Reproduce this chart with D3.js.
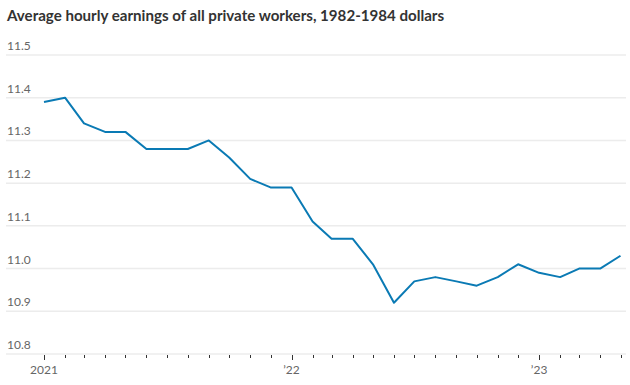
<!DOCTYPE html>
<meta charset="utf-8">
<html>
<head>
<title>Average hourly earnings</title>
<script src="https://d3js.org/d3.v7.min.js"></script>
<style>
body { margin: 0; background: #fff; }
.grid line { stroke: #ececec; stroke-width: 1.5px; }
.tick-label { font-family: Lato, "Noto Sans", sans-serif; font-size: 12px; fill: #666; }
</style>
</head>
<body>
<div id="chart"></div>
<script>
// monthly values, Jan 2021 - May 2023
var months = ["2021-01","2021-02","2021-03","2021-04","2021-05","2021-06","2021-07","2021-08","2021-09","2021-10","2021-11","2021-12",
  "2022-01","2022-02","2022-03","2022-04","2022-05","2022-06","2022-07","2022-08","2022-09","2022-10","2022-11","2022-12",
  "2023-01","2023-02","2023-03","2023-04","2023-05"];
var earnings = [11.39, 11.40, 11.34, 11.32, 11.32, 11.28, 11.28, 11.28, 11.30, 11.26, 11.21, 11.19,
  11.19, 11.11, 11.07, 11.07, 11.01, 10.92, 10.97, 10.98, 10.97, 10.96, 10.98, 11.01,
  10.99, 10.98, 11.00, 11.00, 11.03];
var yTicks = [10.8, 10.9, 11.0, 11.1, 11.2, 11.3, 11.4, 11.5];
var xTickLabels = ["2021", "\u201922", "\u201923"];
var xTickDates = ["2021-01", "2022-01", "2023-01"];

var parse = d3.timeParse("%Y-%m");
var data = months.map(function (m, i) { return { date: parse(m), value: earnings[i] }; });

var width = 630, height = 385;
var svg = d3.select("#chart").append("svg").attr("width", width).attr("height", height);

var x = d3.scaleTime().domain([parse("2021-01"), parse("2023-05")]).range([44, 620.5]);
var y = d3.scaleLinear().domain([10.8, 11.5]).range([354, 55]);

// title
svg.append("text")
  .attr("x", 7).attr("y", 21)
  .style("font-family", "Lato, 'Noto Sans', sans-serif")
  .style("font-size", "15.1px")
  .style("font-weight", "bold")
  .style("fill", "#333")
  .text("Average hourly earnings of all private workers, 1982-1984 dollars");

// gridlines
var grid = svg.append("g").attr("class", "grid");
grid.selectAll("line").data(yTicks).enter().append("line")
  .attr("x1", 6).attr("x2", 626)
  .attr("y1", function (d) { return y(d); })
  .attr("y2", function (d) { return y(d); });

svg.selectAll(".ylab").data(yTicks).enter().append("text")
  .attr("class", "tick-label")
  .attr("x", 7)
  .attr("y", function (d) { return y(d) - 5; })
  .text(function (d) { return d.toFixed(1); });

// month ticks
var monthTicks = data.map(function (d) { return d.date; });
svg.selectAll(".mtick").data(monthTicks).enter().append("line")
  .attr("x1", function (d) { return Math.round(x(d)) + 0.5; })
  .attr("x2", function (d) { return Math.round(x(d)) + 0.5; })
  .attr("y1", 355)
  .attr("y2", function (d) { return d.getMonth() === 0 ? 360 : 358; })
  .style("stroke", "#333")
  .style("stroke-width", 1);

svg.selectAll(".xlab").data(xTickDates).enter().append("text")
  .attr("class", "tick-label")
  .attr("x", function (d) { return x(parse(d)); })
  .attr("y", 374)
  .attr("text-anchor", "middle")
  .text(function (d, i) { return xTickLabels[i]; });

// line
var line = d3.line()
  .x(function (d) { return x(d.date); })
  .y(function (d) { return y(d.value); });

svg.append("path")
  .datum(data)
  .attr("d", line)
  .style("fill", "none")
  .style("stroke", "#0a7ab4")
  .style("stroke-width", 2)
  .style("stroke-linejoin", "round");
</script>
</body>
</html>
